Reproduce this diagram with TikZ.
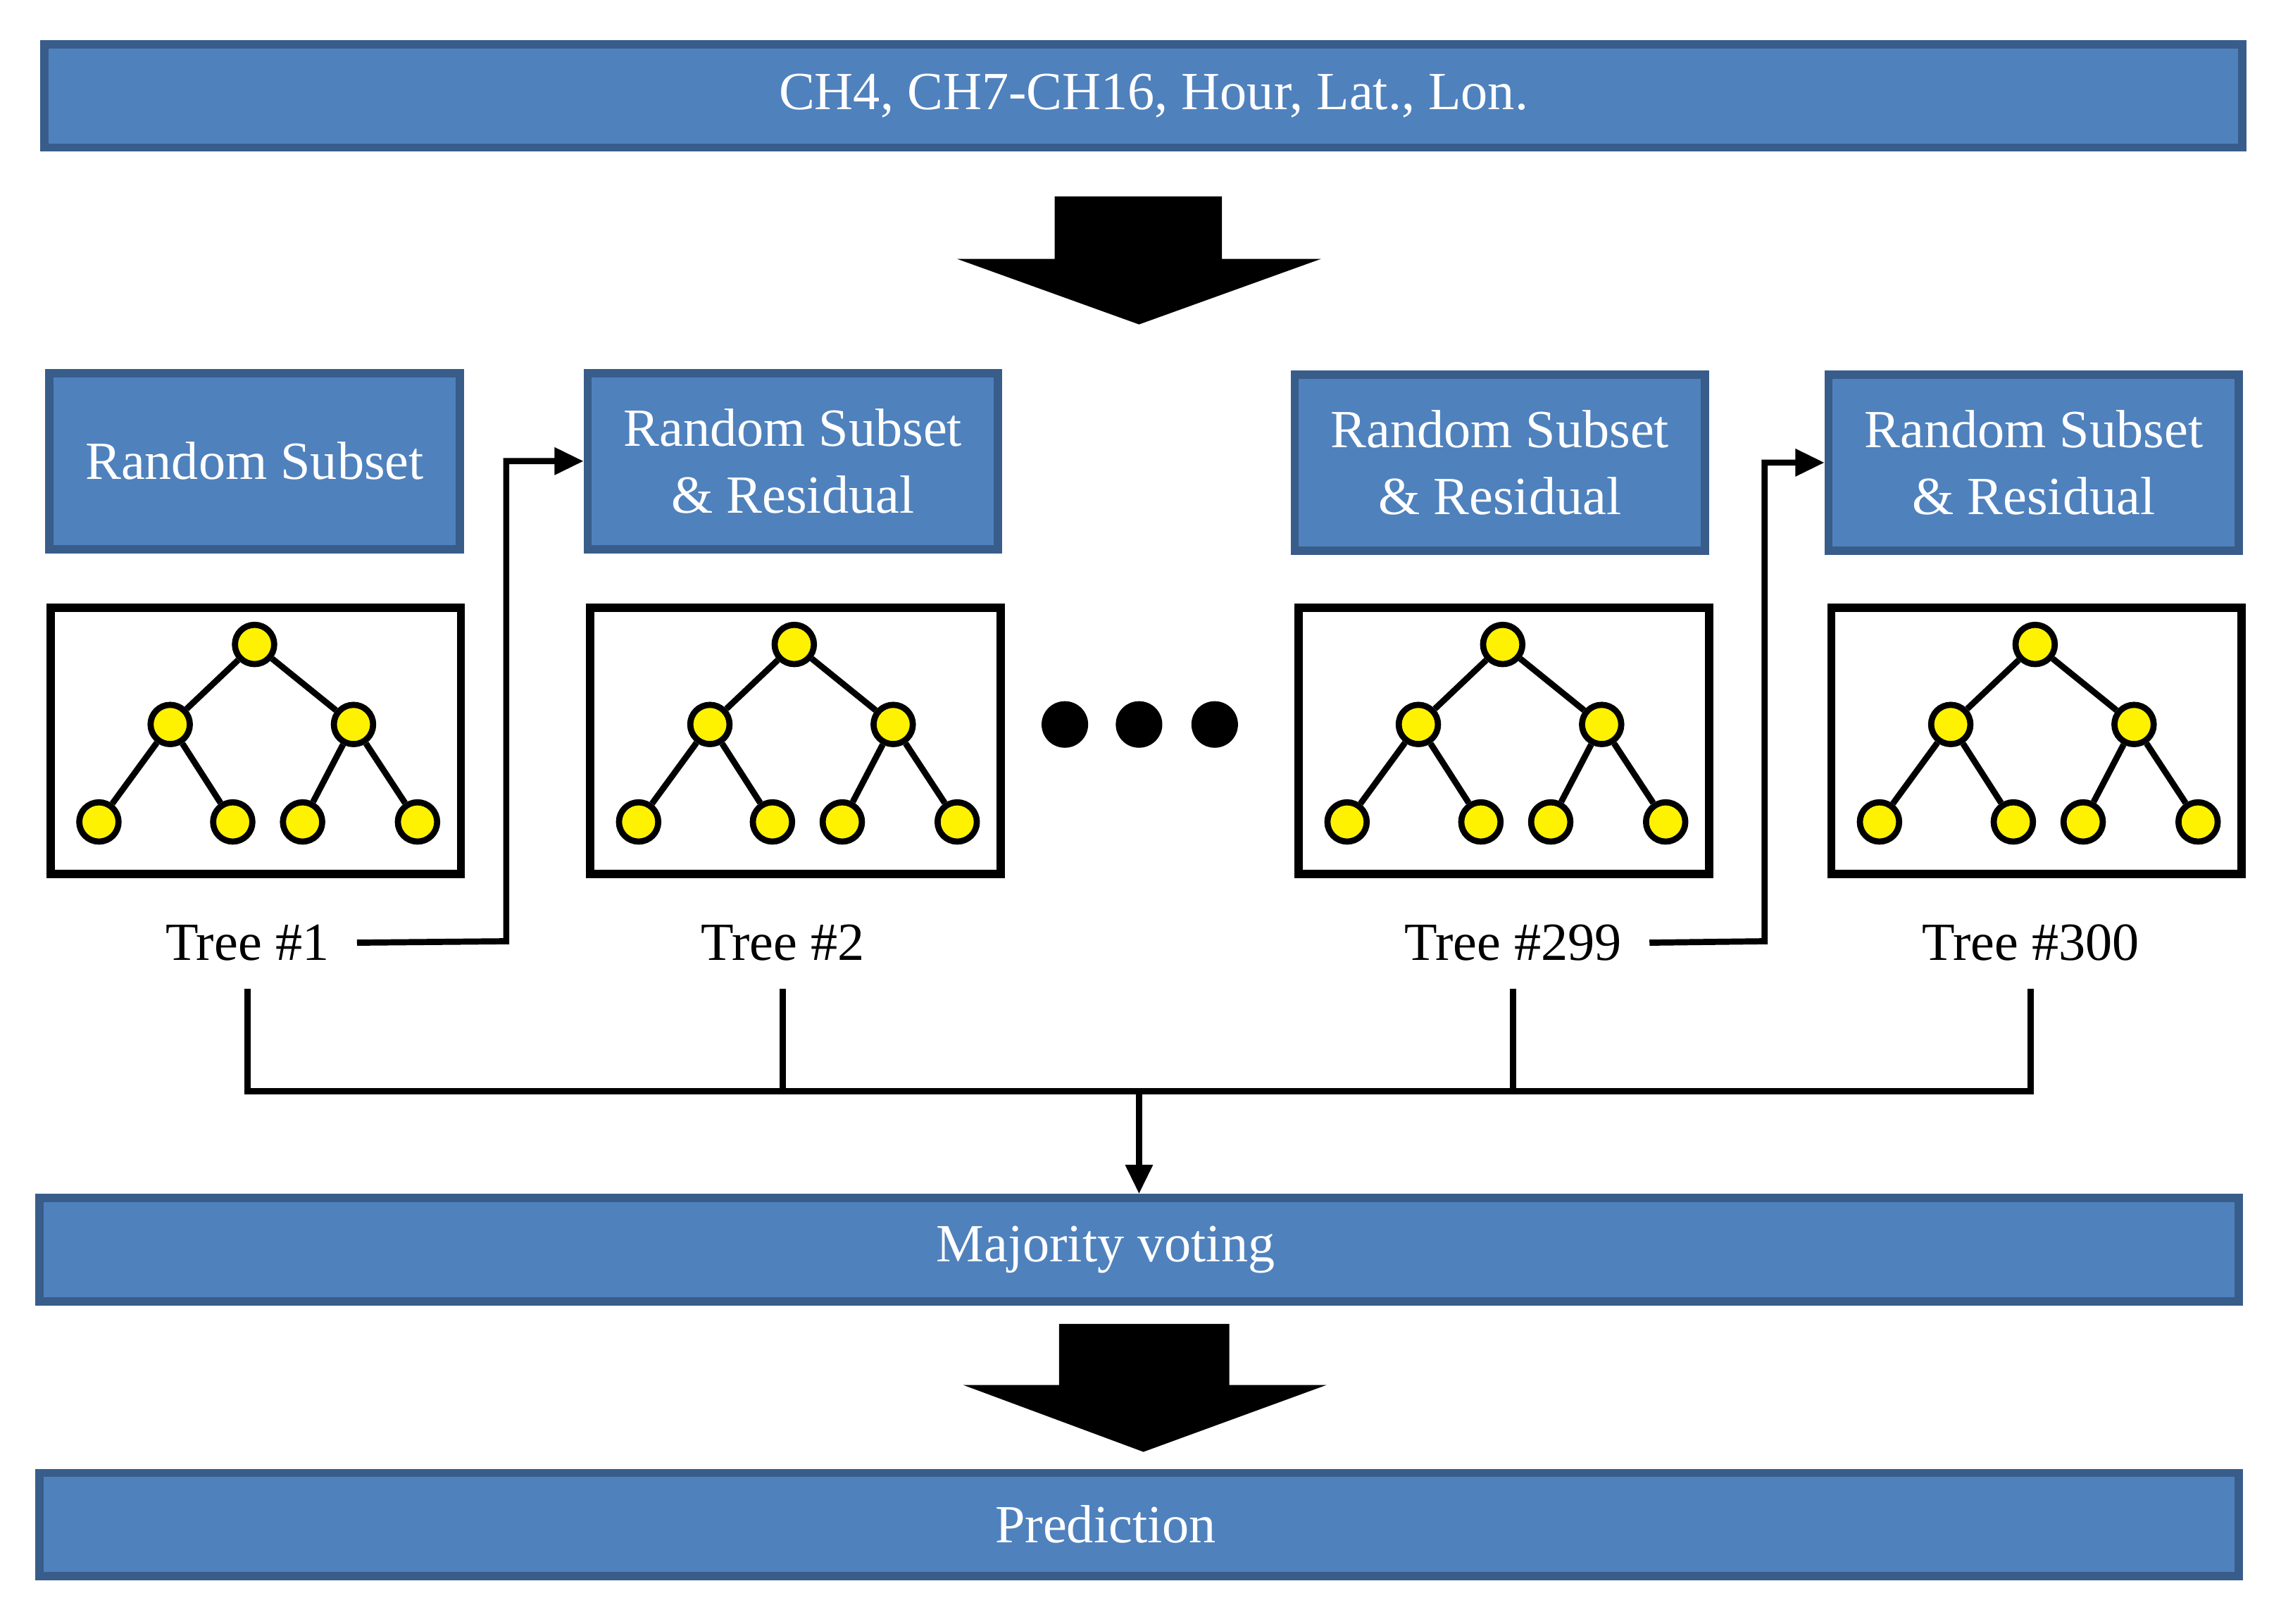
\documentclass[tikz,border=0pt]{standalone}
\usepackage{fontspec}
\setmainfont{Liberation Serif}
\usetikzlibrary{arrows.meta, positioning, calc}

\definecolor{barblue}{HTML}{4F81BD}
\definecolor{barline}{HTML}{385D8A}

\begin{document}
\begin{tikzpicture}[
    x=0.1mm, y=-0.1mm,
    bar/.style={rectangle, draw=barline, line width=1.6pt, fill=barblue, text=white, inner sep=0pt, font=\fontsize{10.5}{12}\selectfont, align=center},
    subset/.style={bar, minimum width=2.82cm, minimum height=1.21cm, font=\fontsize{10.5}{11}\selectfont},
    frame/.style={rectangle, draw, line width=1.6pt, minimum width=2.82cm, minimum height=1.83cm, inner sep=0pt},
    leaf/.style={circle, draw, line width=1.2pt, fill=yellow, minimum size=2.7mm, inner sep=0pt},
    label/.style={font=\fontsize{10.5}{12}\selectfont, inner sep=1pt},
    bigarrow/.style={fill=black},
    arrow/.style={-{Triangle[length=2mm, width=1.8mm]}, line width=1.2pt},
    link/.style={line width=1.2pt}
]
\useasboundingbox (0,0) rectangle (1568,1116);

% Input and output bars
\node[bar, minimum width=15.11cm, minimum height=0.71cm] (input) at (786,66) {\hspace{1.4mm}CH4, CH7-CH16, Hour, Lat., Lon.};
\node[bar, minimum width=15.12cm, minimum height=0.71cm] (vote) at (783,859) {\hspace{-4.6mm}Majority voting};
\node[bar, minimum width=15.12cm, minimum height=0.71cm] (pred) at (783,1048) {\hspace{-4.6mm}Prediction};

% Block arrows
\fill[bigarrow] (725,135) -- (840,135) -- (840,178) -- (908,178) -- (783,223) -- (658,178) -- (725,178) -- cycle;
\fill[bigarrow] (728,910) -- (845,910) -- (845,952) -- (912,952) -- (786,998) -- (662,952) -- (728,952) -- cycle;

% Subset boxes
\node[subset] (sub1) at (175,317) {Random Subset};
\node[subset] (sub2) at (545,317) {Random Subset\\[2pt]\& Residual};
\node[subset] (sub3) at (1031,318) {Random Subset\\[2pt]\& Residual};
\node[subset] (sub4) at (1398,318) {Random Subset\\[2pt]\& Residual};

% Trees
\foreach \i/\x in {1/32, 2/403, 3/890, 4/1256} {
  \node[frame, anchor=north west] (frame\i) at (\x,415) {};
  \node[leaf] (root\i) at ($(\x,0)+(143,443)$) {};
  \node[leaf] (left\i) at ($(\x,0)+(85,498)$) {};
  \node[leaf] (right\i) at ($(\x,0)+(211,498)$) {};
  \node[leaf] (la\i) at ($(\x,0)+(36,565)$) {};
  \node[leaf] (lb\i) at ($(\x,0)+(128,565)$) {};
  \node[leaf] (lc\i) at ($(\x,0)+(176,565)$) {};
  \node[leaf] (ld\i) at ($(\x,0)+(255,565)$) {};
  \draw[link] (root\i) -- (left\i) (root\i) -- (right\i)
    (left\i) -- (la\i) (left\i) -- (lb\i) (right\i) -- (lc\i) (right\i) -- (ld\i);
}

% Dots
\foreach \x [count=\k] in {732, 783, 835}
  \fill (\x,498) circle (1.6mm) coordinate (dot\k);

% Tree labels
\node[label] (tree1) at (170,648) {Tree \#1};
\node[label] (tree2) at (538,648) {Tree \#2};
\node[label] (tree3) at (1040,648) {Tree \#299};
\node[label] (tree4) at (1396,648) {Tree \#300};

% Residual links
\draw[arrow] (tree1.east) ++(15,0) -- (348,647) |- (sub2.west);
\draw[arrow] (tree3.east) ++(15,0) -- (1213,647) |- (sub4.west);

% Voting tree
\coordinate (join) at (783,750);
\draw[link] (tree1.south) ++(0,15) |- (join);
\draw[link] (tree2.south) ++(0,15) |- (join);
\draw[link] (tree3.south) ++(0,15) |- (join);
\draw[link] (tree4.south) ++(0,15) |- (join);
\draw[arrow] (join) -- (vote.north -| join);

\end{tikzpicture}
\end{document}
